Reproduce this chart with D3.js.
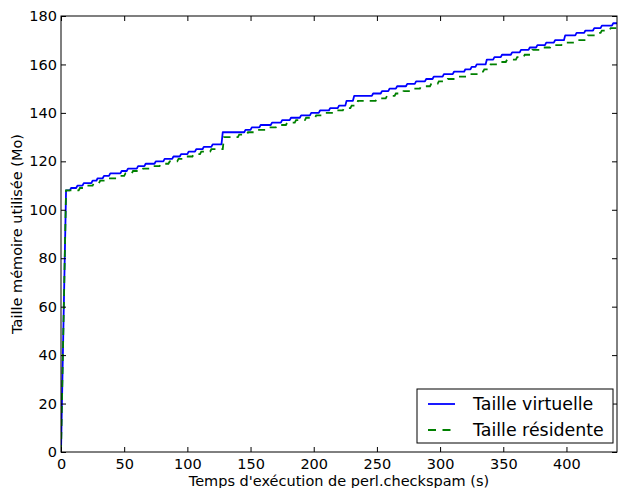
<!DOCTYPE html>
<html>
<head>
<meta charset="utf-8">
<script src="https://cdn.jsdelivr.net/npm/d3@7"></script>
<style>
  body { margin: 0; background: #fff; }
  svg { display: block; font-family: "DejaVu Sans", sans-serif; }
</style>
</head>
<body>
<svg id="chart" width="618" height="488"></svg>
<script>
// ---- data ----
// Start of both series: ramp from 0 to first plateau
const rampT = [0, 4];
const rampV = [0, 108];

// Virtual size: times (s) at which the value rises, and the new value (Mo)
const virtT = [7, 12, 17, 24, 28, 33, 38, 47, 52, 60, 66, 74, 81, 88, 94, 100, 106, 112, 119, 127,
  145, 150, 157, 166, 174, 181, 189, 197, 204, 212, 219, 225, 231,
  246, 253, 259, 265, 273, 280, 288, 294, 302, 310, 319, 324, 328, 336, 342, 348, 356, 363, 370,
  376, 383, 390, 398, 407, 414, 421, 427, 436];
const virtV = [109, 110, 111, 112, 113, 114, 115, 116, 117, 118, 119, 120, 121, 122, 123, 124, 125, 126, 127, 132,
  133, 134, 135, 136, 137, 138, 139, 140, 141, 142, 143, 145, 147,
  148, 149, 150, 151, 152, 153, 154, 155, 156, 157, 158, 159, 160, 162, 163, 164, 165, 166, 167,
  168, 169, 170, 172, 173, 174, 175, 176, 177];

// Resident size
const resT = [14, 18, 25, 30, 36, 44, 50, 56, 64, 70, 78, 85, 92, 98, 104, 110, 118, 128,
  140, 147, 153, 162, 170, 178, 185, 193, 201, 208, 216, 223, 229, 234,
  249, 257, 264, 270, 277, 284, 292, 298, 305, 313, 322, 330, 334, 339, 346, 352, 360, 366,
  372, 381, 387, 396, 407, 416, 423, 427, 434];
const resV = [109, 110, 111, 112, 113, 114, 115, 116, 117, 118, 119, 120, 121, 122, 123, 124, 125, 130,
  131, 132, 133, 134, 135, 136, 137, 138, 139, 140, 141, 142, 143, 145,
  146, 147, 148, 149, 150, 151, 152, 153, 154, 155, 156, 157, 158, 160, 161, 162, 163, 164,
  166, 167, 168, 169, 170, 172, 173, 174, 175];

const xTicks = [0, 50, 100, 150, 200, 250, 300, 350, 400];
const yTicks = [0, 20, 40, 60, 80, 100, 120, 140, 160, 180];
const xDomain = [0, 440];
const yDomain = [0, 180];
const seriesNames = ["Taille virtuelle", "Taille résidente"];
const xLabel = "Temps d'exécution de perl.checkspam (s)";
const yLabel = "Taille mémoire utilisée (Mo)";

// ---- layout ----
const svg = d3.select("#chart");
const L = 61, R = 617, T = 16, B = 452;
const x = d3.scaleLinear().domain(xDomain).range([L, R]);
const y = d3.scaleLinear().domain(yDomain).range([B, T]);

function buildPoints(tt, vv) {
  const pts = rampT.map((t, i) => [t, rampV[i]]);
  let prev = rampV[rampV.length - 1];
  tt.forEach((t, i) => {
    pts.push([t, prev]);
    pts.push([t + 1, vv[i]]);
    prev = vv[i];
  });
  pts.push([xDomain[1], prev]);
  return pts;
}

svg.append("clipPath").attr("id", "clip")
  .append("rect").attr("x", L).attr("y", T - 2).attr("width", R - L).attr("height", B - T + 2);

const line = d3.line().x(d => x(d[0])).y(d => y(d[1]));

const g = svg.append("g").attr("clip-path", "url(#clip)");
g.append("path").datum(buildPoints(virtT, virtV))
  .attr("fill", "none").attr("stroke", "#0000ff").attr("stroke-width", 1.8)
  .attr("stroke-linejoin", "round").attr("d", line);
g.append("path").datum(buildPoints(resT, resV))
  .attr("fill", "none").attr("stroke", "#008000").attr("stroke-width", 1.8)
  .attr("stroke-dasharray", "7,6").attr("d", line);

// ---- axes (ticks inward on all 4 sides) ----
const tl = 5;
const axB = d3.axisBottom(x).tickValues(xTicks).tickSizeInner(-tl).tickSizeOuter(0).tickPadding(7);
const axT = d3.axisTop(x).tickValues(xTicks).tickSizeInner(-tl).tickSizeOuter(0).tickFormat("");
const axL = d3.axisLeft(y).tickValues(yTicks).tickSizeInner(-tl).tickSizeOuter(0).tickPadding(4);
const axR = d3.axisRight(y).tickValues(yTicks).tickSizeInner(-tl).tickSizeOuter(0).tickFormat("");

function style(sel) {
  sel.select(".domain").remove();
  sel.selectAll(".tick line").attr("stroke", "#000").attr("stroke-width", 1);
  sel.selectAll(".tick text").attr("font-size", "14.5px").attr("fill", "#000")
    .attr("font-family", "DejaVu Sans, sans-serif");
}
svg.append("g").attr("transform", `translate(0,${B})`).call(axB).call(style);
svg.append("g").attr("transform", `translate(0,${T})`).call(axT).call(style);
svg.append("g").attr("transform", `translate(${L},0)`).call(axL).call(style);
svg.append("g").attr("transform", `translate(${R},0)`).call(axR).call(style);

svg.append("rect").attr("x", L).attr("y", T).attr("width", R - L).attr("height", B - T)
  .attr("fill", "none").attr("stroke", "#000").attr("stroke-width", 1);

// ---- labels ----
svg.append("text").attr("x", (L + R) / 2).attr("y", 486).attr("text-anchor", "middle")
  .attr("font-size", "14.5px").text(xLabel);
svg.append("text").attr("transform", `translate(22,${(T + B) / 2}) rotate(-90)`)
  .attr("text-anchor", "middle").attr("font-size", "14.5px").text(yLabel);

// ---- legend ----
const lg = svg.append("g");
lg.append("rect").attr("x", 417).attr("y", 389).attr("width", 196).attr("height", 54)
  .attr("fill", "#fff").attr("stroke", "#000").attr("stroke-width", 1);
const colors = ["#0000ff", "#008000"];
const dashes = [null, "8,6.5"];
seriesNames.forEach((name, i) => {
  const yy = 404 + i * 26;
  lg.append("line").attr("x1", 428).attr("x2", 455).attr("y1", yy).attr("y2", yy)
    .attr("stroke", colors[i]).attr("stroke-width", 1.8).attr("stroke-dasharray", dashes[i]);
  lg.append("text").attr("x", 473).attr("y", yy + 6).attr("font-size", "17.4px").text(name);
});
</script>
</body>
</html>
